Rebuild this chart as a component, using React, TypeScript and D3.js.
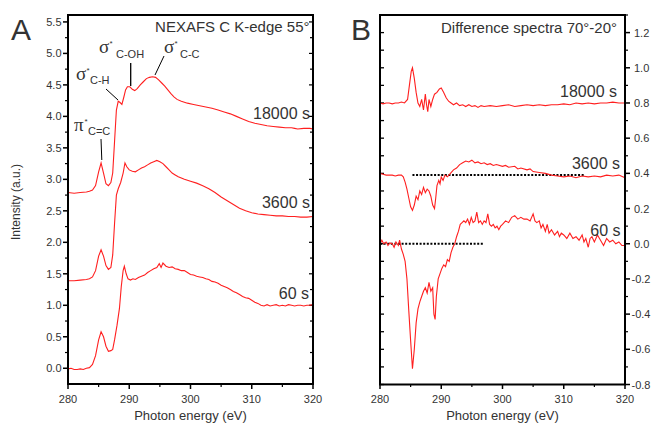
import React from "react";
import * as d3 from "d3";

type P = [number, number];

const energyTicks = [280, 290, 300, 310, 320];

const specA60: P[] = [[280,-0.01],[280.5,0.0],[281,-0.02],[281.5,-0.02],[282,-0.01],[282.5,-0.02],[283,0.0],[283.5,0.01],[284,0.06],[284.5,0.2],[285,0.45],[285.4,0.58],[285.8,0.5],[286.2,0.35],[286.6,0.27],[287,0.28],[287.3,0.3],[287.6,0.45],[288,0.68],[288.4,0.95],[288.7,1.3],[289,1.55],[289.2,1.62],[289.5,1.5],[289.8,1.42],[290.2,1.4],[290.6,1.42],[291,1.41],[291.5,1.44],[292,1.46],[292.5,1.48],[293,1.52],[293.5,1.55],[294,1.58],[294.5,1.6],[294.9,1.66],[295.2,1.6],[295.5,1.67],[296,1.62],[296.5,1.6],[297,1.61],[297.5,1.58],[298,1.57],[298.5,1.55],[299,1.55],[299.5,1.52],[300,1.49],[300.5,1.48],[301,1.46],[301.5,1.45],[302,1.44],[302.5,1.42],[303,1.41],[303.5,1.38],[304,1.37],[304.5,1.35],[305,1.32],[305.5,1.3],[306,1.28],[306.5,1.25],[307,1.22],[307.5,1.2],[308,1.17],[308.5,1.14],[309,1.12],[309.5,1.11],[310,1.08],[310.5,1.05],[311,1.03],[311.5,1.0],[312,0.99],[312.5,1.01],[313,0.99],[313.5,1.0],[314,1.01],[314.5,0.99],[315,1.0],[315.5,0.99],[316,1.01],[316.5,1.0],[317,0.99],[317.5,1.0],[318,1.0],[318.5,0.99],[319,1.0],[319.5,1.0],[320,1.01]];

const specA3600: P[] = [[280,1.39],[281,1.39],[282,1.4],[283,1.41],[283.5,1.42],[284,1.45],[284.5,1.55],[285,1.78],[285.4,1.88],[285.8,1.78],[286.2,1.63],[286.6,1.57],[287,1.6],[287.3,1.8],[287.6,2.3],[287.9,2.75],[288.2,2.85],[288.6,2.95],[289,3.1],[289.3,3.26],[289.6,3.2],[290,3.15],[290.5,3.13],[291,3.12],[291.5,3.15],[292,3.18],[292.5,3.2],[293,3.23],[293.5,3.26],[294,3.28],[294.5,3.3],[295,3.28],[295.5,3.25],[296,3.2],[296.5,3.15],[297,3.1],[297.5,3.07],[298,3.04],[299,3.0],[300,2.97],[301,2.94],[302,2.9],[303,2.85],[304,2.79],[305,2.72],[306,2.66],[307,2.6],[308,2.54],[309,2.5],[310,2.47],[311,2.45],[312,2.44],[313,2.43],[314,2.42],[315,2.42],[316,2.41],[317,2.41],[318,2.4],[319,2.4],[320,2.41]];

const specA18000: P[] = [[280,2.79],[281,2.78],[282,2.79],[283,2.8],[283.5,2.81],[284,2.83],[284.5,2.9],[285,3.12],[285.4,3.26],[285.8,3.1],[286.2,2.93],[286.6,2.9],[287,2.95],[287.3,3.1],[287.6,3.6],[287.9,4.1],[288.2,4.24],[288.5,4.22],[288.8,4.19],[289.1,4.3],[289.4,4.42],[289.7,4.47],[290.1,4.47],[290.5,4.43],[290.9,4.41],[291.3,4.44],[291.8,4.5],[292.3,4.55],[292.8,4.6],[293.3,4.62],[293.8,4.63],[294.3,4.62],[294.8,4.58],[295.3,4.53],[295.8,4.48],[296.3,4.42],[296.8,4.36],[297.3,4.31],[297.8,4.27],[298.5,4.24],[299.5,4.21],[300.5,4.19],[301.5,4.17],[302.5,4.15],[303.5,4.13],[304.5,4.1],[305.5,4.07],[306.5,4.04],[307.5,4.0],[308.5,3.96],[309.5,3.92],[310.5,3.89],[311.5,3.87],[312.5,3.85],[313.5,3.84],[314.5,3.83],[315.5,3.82],[316.5,3.82],[317,3.81],[317.5,3.8],[318.5,3.81],[319.5,3.81],[320,3.8]];

const diffB18000: P[] = [[280,0.8],[280.5,0.795],[281,0.8],[281.5,0.8],[282,0.795],[282.5,0.8],[283,0.8],[283.5,0.805],[284,0.8],[284.5,0.82],[284.8,0.9],[285.1,0.98],[285.3,1.0],[285.6,0.94],[285.9,0.86],[286.2,0.8],[286.5,0.78],[286.8,0.82],[287.1,0.76],[287.4,0.85],[287.6,0.79],[287.8,0.75],[288.0,0.82],[288.3,0.78],[288.6,0.82],[288.9,0.85],[289.3,0.86],[289.7,0.88],[290.0,0.885],[290.4,0.86],[290.8,0.83],[291.2,0.81],[291.6,0.8],[292,0.79],[292.5,0.8],[293,0.785],[293.5,0.79],[294,0.78],[294.5,0.79],[295,0.78],[295.5,0.785],[296,0.775],[296.5,0.785],[297,0.78],[298,0.785],[299,0.78],[300,0.785],[301,0.79],[302,0.78],[303,0.785],[304,0.79],[305,0.785],[306,0.79],[307,0.785],[308,0.79],[309,0.79],[310,0.795],[311,0.79],[312,0.8],[313,0.795],[314,0.8],[315,0.795],[316,0.8],[317,0.8],[318,0.805],[319,0.8],[320,0.8]];

const diffB3600: P[] = [[280,0.4],[280.5,0.395],[281,0.39],[281.5,0.39],[282,0.39],[282.5,0.385],[283,0.39],[283.5,0.39],[283.8,0.38],[284.1,0.35],[284.4,0.31],[284.7,0.26],[285.0,0.21],[285.3,0.19],[285.6,0.22],[285.9,0.27],[286.2,0.25],[286.5,0.3],[286.8,0.28],[287.1,0.32],[287.4,0.29],[287.7,0.31],[288.0,0.3],[288.3,0.27],[288.6,0.22],[288.9,0.2],[289.1,0.26],[289.3,0.33],[289.6,0.36],[289.8,0.34],[290.0,0.38],[290.3,0.36],[290.6,0.39],[291,0.38],[291.5,0.4],[292,0.42],[292.5,0.43],[293,0.45],[293.5,0.46],[294,0.47],[294.5,0.465],[295,0.475],[295.5,0.46],[296,0.465],[296.5,0.455],[297,0.46],[297.5,0.45],[298,0.455],[298.5,0.445],[299,0.45],[300,0.44],[300.5,0.445],[301,0.435],[302,0.44],[302.5,0.425],[303,0.43],[304,0.42],[304.5,0.425],[305,0.41],[306,0.405],[307,0.4],[308,0.39],[309,0.385],[310,0.38],[311,0.385],[312,0.375],[313,0.385],[314,0.38],[315,0.385],[316,0.38],[317,0.39],[318,0.385],[319,0.39],[320,0.375]];

const diffB60: P[] = [[280,0.0],[280.3,0.02],[280.6,0.0],[281,0.01],[281.3,-0.01],[281.6,0.005],[282,0.0],[282.3,-0.02],[282.6,0.01],[283,-0.01],[283.2,0.02],[283.5,-0.03],[283.8,-0.06],[284.1,-0.1],[284.4,-0.2],[284.7,-0.38],[285.0,-0.55],[285.3,-0.71],[285.6,-0.6],[285.9,-0.45],[286.2,-0.37],[286.5,-0.33],[286.8,-0.3],[287.1,-0.27],[287.4,-0.25],[287.7,-0.28],[288.0,-0.22],[288.3,-0.27],[288.6,-0.25],[288.8,-0.4],[289.0,-0.43],[289.2,-0.3],[289.5,-0.2],[289.8,-0.17],[290.1,-0.14],[290.4,-0.12],[290.7,-0.13],[291.0,-0.09],[291.3,-0.1],[291.6,-0.05],[291.9,-0.02],[292.2,0.0],[292.5,0.04],[292.8,0.07],[293.1,0.11],[293.4,0.12],[293.7,0.13],[294,0.12],[294.3,0.14],[294.6,0.11],[294.9,0.15],[295.2,0.12],[295.5,0.13],[295.8,0.18],[296.1,0.12],[296.4,0.13],[296.7,0.11],[297,0.13],[297.3,0.12],[297.6,0.17],[297.9,0.11],[298.2,0.1],[298.5,0.11],[298.8,0.09],[299.1,0.1],[299.4,0.08],[299.7,0.1],[300,0.11],[300.5,0.13],[301,0.12],[301.5,0.15],[302,0.16],[302.5,0.14],[303,0.15],[303.5,0.14],[304,0.14],[304.5,0.13],[305,0.17],[305.3,0.13],[305.6,0.12],[306,0.13],[306.3,0.09],[306.6,0.11],[307,0.07],[307.3,0.11],[307.6,0.06],[308,0.08],[308.5,0.05],[309,0.07],[309.3,0.04],[309.6,0.06],[310,0.05],[310.5,0.03],[311,0.06],[311.5,0.03],[312,0.04],[312.5,0.02],[313,0.05],[313.3,0.01],[313.6,0.03],[314,-0.02],[314.3,0.03],[314.6,0.04],[315,0.01],[315.5,0.05],[316,0.02],[316.5,-0.01],[317,0.03],[317.5,0.01],[318,0.02],[318.5,0.0],[319,0.01],[319.5,-0.01],[320,-0.01]];

// reference dotted lines in panel B: [startE, endE, level]
const refLine3600: [number, number, number] = [285.3, 313.5, 0.39];
const refLine60: [number, number, number] = [280, 297, 0.0];

const labelsA = ["18000 s", "3600 s", "60 s"];
const labelsB = ["18000 s", "3600 s", "60 s"];

const RED = "#ff1f1f";
const TXT = "#333";
const SANS = "Liberation Sans, Arial, sans-serif";
const SERIF = "Liberation Serif, Times New Roman, serif";

export default function App() {
  const xA = d3.scaleLinear().domain([280, 320]).range([68, 313]);
  const yA = d3.scaleLinear().domain([-0.25, 5.61]).range([384, 15]);
  const xB = d3.scaleLinear().domain([280, 320]).range([380, 625]);
  const yB = d3.scaleLinear().domain([-0.8, 1.3]).range([384.5, 15]);

  const lineA = d3.line<P>().x((d) => xA(d[0])).y((d) => yA(d[1]));
  const lineB = d3.line<P>().x((d) => xB(d[0])).y((d) => yB(d[1]));

  const aMajor = d3.range(0, 5.51, 0.5);
  const aMinor = d3.range(0.25, 5.51, 0.5);
  const xMinor = [285, 295, 305, 315];
  const bMajor = d3.range(-0.8, 1.21, 0.2).map((v) => Math.round(v * 10) / 10);
  const bMinor = d3.range(-0.7, 1.31, 0.2).map((v) => Math.round(v * 10) / 10);
  const bAll = d3.range(-0.7, 1.31, 0.1).map((v) => Math.round(v * 10) / 10);

  const fmt = (v: number) => (Math.abs(v) < 1e-9 ? "0.0" : d3.format(".1f")(v).replace("−", "-"));

  const xAxis = (x: d3.ScaleLinear<number, number>, key: string) => (
    <g key={key}>
      {energyTicks.map((t) => (
        <g key={t}>
          <line x1={x(t)} x2={x(t)} y1={384} y2={389} stroke="#000" strokeWidth={1.5} />
          <text x={x(t)} y={403} textAnchor="middle" fontSize={11} fill={TXT} fontFamily={SANS}>{t}</text>
        </g>
      ))}
      {xMinor.map((t) => (
        <line key={"m" + t} x1={x(t)} x2={x(t)} y1={384} y2={387} stroke="#000" strokeWidth={1.2} />
      ))}
      <text x={(x(280) + x(320)) / 2} y={420} textAnchor="middle" fontSize={13} fill={TXT} fontFamily={SANS}>Photon energy (eV)</text>
    </g>
  );

  return (
    <div style={{ position: "absolute", left: 0, top: 0 }}>
      <svg width={652} height={426} style={{ display: "block", background: "#fff" }}>
        <text x={11} y={40} fontSize={30} fill={TXT} fontFamily={SANS}>A</text>
        <text x={351} y={40} fontSize={30} fill={TXT} fontFamily={SANS}>B</text>

        {/* ===== Panel A ===== */}
        <g>
          {aMajor.map((v) => (
            <g key={v}>
              <line x1={63} x2={68} y1={yA(v)} y2={yA(v)} stroke="#000" strokeWidth={1.5} />
              <line x1={313} x2={309} y1={yA(v)} y2={yA(v)} stroke="#000" strokeWidth={1.2} />
              <text x={61.5} y={yA(v) + 4} textAnchor="end" fontSize={11} fill={TXT} fontFamily={SANS}>{fmt(v)}</text>
            </g>
          ))}
          {aMinor.map((v) => (
            <g key={"m" + v}>
              <line x1={65} x2={68} y1={yA(v)} y2={yA(v)} stroke="#000" strokeWidth={1.2} />
              <line x1={313} x2={310} y1={yA(v)} y2={yA(v)} stroke="#000" strokeWidth={1.2} />
            </g>
          ))}
          {xAxis(xA, "xa")}
          <text transform={`translate(20,202) rotate(-90)`} textAnchor="middle" fontSize={12} fill={TXT} fontFamily={SANS}>Intensity (a.u.)</text>

          <path d={lineA(specA60) || ""} fill="none" stroke={RED} strokeWidth={1.1} />
          <path d={lineA(specA3600) || ""} fill="none" stroke={RED} strokeWidth={1.1} />
          <path d={lineA(specA18000) || ""} fill="none" stroke={RED} strokeWidth={1.1} />

          <rect x={68} y={15} width={245} height={369} fill="none" stroke="#000" strokeWidth={2} />

          <text x={309.5} y={32} textAnchor="end" fontSize={15} fill={TXT} fontFamily={SANS}>NEXAFS C K-edge 55°</text>
          <text x={310} y={119} textAnchor="end" fontSize={16} fill={TXT} fontFamily={SANS}>{labelsA[0]}</text>
          <text x={310} y={208} textAnchor="end" fontSize={16} fill={TXT} fontFamily={SANS}>{labelsA[1]}</text>
          <text x={309} y={299} textAnchor="end" fontSize={16} fill={TXT} fontFamily={SANS}>{labelsA[2]}</text>

          <text x={74} y={131} fontSize={19} fill={TXT} fontFamily={SERIF}>π</text>
          <text x={84.5} y={124} fontSize={8} fill={TXT} fontFamily={SANS}>*</text>
          <text x={88} y={135} fontSize={11} fill={TXT} fontFamily={SANS}>C=C</text>
          <line x1={101} y1={139} x2={101.8} y2={160} stroke="#000" strokeWidth={1} />

          <text x={76} y={80} fontSize={19} fill={TXT} fontFamily={SERIF}>σ</text>
          <text x={86.5} y={73} fontSize={8} fill={TXT} fontFamily={SANS}>*</text>
          <text x={90} y={84} fontSize={11} fill={TXT} fontFamily={SANS}>C-H</text>
          <line x1={106} y1={89} x2={118} y2={100} stroke="#000" strokeWidth={1} />

          <text x={99} y={53} fontSize={19} fill={TXT} fontFamily={SERIF}>σ</text>
          <text x={109.5} y={46} fontSize={8} fill={TXT} fontFamily={SANS}>*</text>
          <text x={116} y={58} fontSize={11} fill={TXT} fontFamily={SANS}>C-OH</text>
          <line x1={130.7} y1={63} x2={130.7} y2={86} stroke="#000" strokeWidth={1.3} />

          <text x={164} y={53} fontSize={19} fill={TXT} fontFamily={SERIF}>σ</text>
          <text x={174.5} y={46} fontSize={8} fill={TXT} fontFamily={SANS}>*</text>
          <text x={180} y={58} fontSize={11} fill={TXT} fontFamily={SANS}>C-C</text>
          <line x1={164} y1={56} x2={155} y2={75} stroke="#000" strokeWidth={1} />
        </g>

        {/* ===== Panel B ===== */}
        <g>
          {bAll.concat([-0.8]).map((v) => (
            <line key={"l" + v} x1={380} x2={384} y1={yB(v)} y2={yB(v)} stroke="#000" strokeWidth={1.3} />
          ))}
          {bMajor.map((v) => (
            <g key={v}>
              <line x1={625} x2={630} y1={yB(v)} y2={yB(v)} stroke="#000" strokeWidth={1.5} />
              <text x={v < 0 ? 631.5 : 634} y={yB(v) + 4} textAnchor="start" fontSize={11} fill={TXT} fontFamily={SANS}>{fmt(v)}</text>
            </g>
          ))}
          {bMinor.map((v) => (
            <line key={"m" + v} x1={625} x2={628} y1={yB(v)} y2={yB(v)} stroke="#000" strokeWidth={1.2} />
          ))}
          {xAxis(xB, "xb")}

          <line x1={xB(refLine3600[0])} x2={xB(refLine3600[1])} y1={yB(refLine3600[2])} y2={yB(refLine3600[2])} stroke="#000" strokeWidth={2} strokeDasharray="2,1.6" />
          <line x1={xB(refLine60[0])} x2={xB(refLine60[1])} y1={yB(refLine60[2])} y2={yB(refLine60[2])} stroke="#000" strokeWidth={2} strokeDasharray="2,1.6" />

          <path d={lineB(diffB60) || ""} fill="none" stroke={RED} strokeWidth={1.1} />
          <path d={lineB(diffB3600) || ""} fill="none" stroke={RED} strokeWidth={1.1} />
          <path d={lineB(diffB18000) || ""} fill="none" stroke={RED} strokeWidth={1.1} />

          <rect x={380} y={15} width={245} height={369.5} fill="none" stroke="#000" strokeWidth={2} />

          <text x={617} y={33} textAnchor="end" fontSize={15} fill={TXT} fontFamily={SANS}>Difference spectra 70°-20°</text>
          <text x={617} y={97} textAnchor="end" fontSize={16} fill={TXT} fontFamily={SANS}>{labelsB[0]}</text>
          <text x={620} y={168.5} textAnchor="end" fontSize={16} fill={TXT} fontFamily={SANS}>{labelsB[1]}</text>
          <text x={620.5} y={235.5} textAnchor="end" fontSize={16} fill={TXT} fontFamily={SANS}>{labelsB[2]}</text>
        </g>
      </svg>
    </div>
  );
}
